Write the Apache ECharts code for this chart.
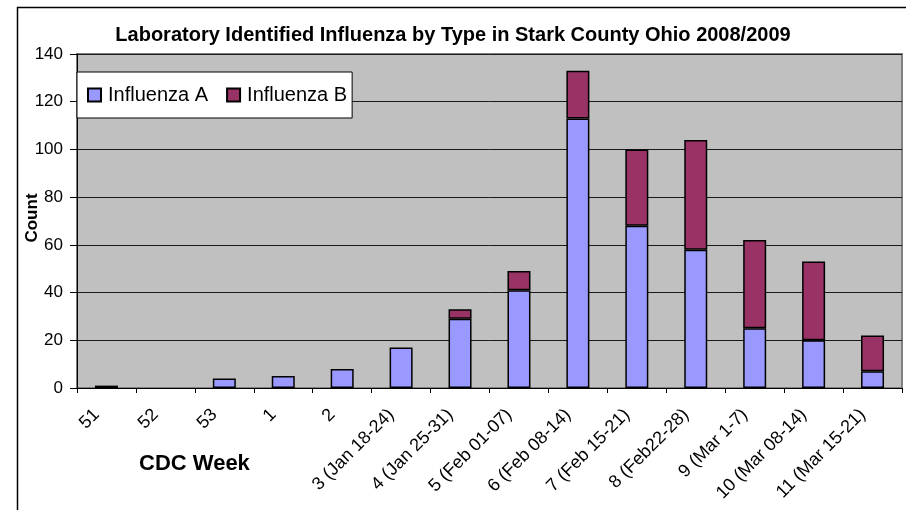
<!DOCTYPE html>
<html>
<head>
<meta charset="utf-8">
<script src="https://cdn.jsdelivr.net/npm/echarts@6/dist/echarts.min.js"></script>
<style>
html,body{margin:0;padding:0;background:#fff;}
#chart{width:906px;height:510px;}
</style>
</head>
<body>
<div id="chart"></div>
<script>
var titleText = 'Laboratory Identified Influenza by Type in Stark County Ohio 2008/2009';
var xAxisTitle = 'CDC Week';
var yAxisTitle = 'Count';
var categories = ['51','52','53','1','2','3 (Jan 18-24)','4 (Jan 25-31)','5 (Feb 01-07)','6 (Feb 08-14)','7 (Feb 15-21)','8 (Feb22-28)','9 (Mar 1-7)','10 (Mar 08-14)','11 (Mar 15-21)'];
var influenzaA = [1, 0, 4, 5, 8, 17, 29, 41, 113, 68, 58, 25, 20, 7];
var influenzaB = [0, 0, 0, 0, 0, 0, 4, 8, 20, 32, 46, 37, 33, 15];
var yTicks = [0, 20, 40, 60, 80, 100, 120, 140];

function hideZero(arr) { return arr.map(function (v) { return v === 0 ? '-' : v; }); }

var FONT = '"Liberation Sans", Arial, sans-serif';
var chart = echarts.init(document.getElementById('chart'), null, {renderer: 'canvas'});
chart.setOption({
  animation: false,
  backgroundColor: '#ffffff',
  title: {
    text: titleText,
    left: 'center',
    top: 20,
    textStyle: {fontFamily: FONT, fontSize: 20, fontWeight: 'bold', color: '#000'}
  },
  legend: {
    data: ['Influenza A', 'Influenza B'],
    left: 77,
    top: 72,
    orient: 'horizontal',
    backgroundColor: '#ffffff',
    borderColor: '#000',
    borderWidth: 1,
    borderRadius: 0,
    padding: [13, 5, 13, 10],
    itemWidth: 13,
    itemHeight: 13,
    itemGap: 18,
    icon: 'rect',
    textStyle: {fontFamily: FONT, fontSize: 20, color: '#000', padding: [0, 0, 0, 2]}
  },
  grid: {
    left: 77,
    right: 4,
    top: 54,
    bottom: 122,
    show: true,
    backgroundColor: '#c0c0c0',
    borderColor: '#808080',
    borderWidth: 2,
    containLabel: false,
    outerBoundsMode: 'none'
  },
  xAxis: {
    type: 'category',
    data: categories,
    boundaryGap: true,
    axisLine: {show: true, lineStyle: {color: '#000', width: 1}},
    axisTick: {show: true, alignWithLabel: false, length: 5, lineStyle: {color: '#000'}},
    axisLabel: {interval: 0, rotate: 45, margin: 14, padding: [0, 14, 0, 0], fontFamily: FONT, fontSize: 18, color: '#000'},
    splitLine: {show: false}
  },
  yAxis: {
    type: 'value',
    min: 0,
    max: 140,
    interval: 20,
    axisLine: {show: true, lineStyle: {color: '#000', width: 1}},
    axisTick: {show: true, length: 7, lineStyle: {color: '#000'}},
    axisLabel: {margin: 14, fontFamily: FONT, fontSize: 17, color: '#000',
      formatter: function (v) { return yTicks.indexOf(v) >= 0 ? String(v) : ''; }},
    splitLine: {show: true, lineStyle: {color: '#1a1a1a', width: 1}}
  },
  series: [
    {
      name: 'Influenza A',
      type: 'bar',
      stack: 'flu',
      data: hideZero(influenzaA),
      barWidth: 23,
      itemStyle: {color: '#9999ff', borderColor: '#000', borderWidth: 1.5}
    },
    {
      name: 'Influenza B',
      type: 'bar',
      stack: 'flu',
      data: hideZero(influenzaB),
      barWidth: 23,
      itemStyle: {color: '#993366', borderColor: '#000', borderWidth: 1.5}
    }
  ],
  graphic: [
    {
      type: 'rect',
      left: 15,
      top: 5,
      shape: {x: 0, y: 0, width: 1000, height: 600},
      style: {fill: 'none', stroke: '#000', lineWidth: 1.5},
      silent: true,
      z: 100
    },
    {
      type: 'text',
      left: 139,
      top: 453,
      style: {text: xAxisTitle, fontFamily: FONT, fontSize: 22, fontWeight: 'bold', fill: '#000'},
      silent: true
    },
    {
      type: 'text',
      x: 32,
      y: 218,
      rotation: Math.PI / 2,
      style: {text: yAxisTitle, fontFamily: FONT, fontSize: 17, fontWeight: 'bold', fill: '#000', align: 'center', verticalAlign: 'middle'},
      silent: true
    }
  ]
});
</script>
</body>
</html>
